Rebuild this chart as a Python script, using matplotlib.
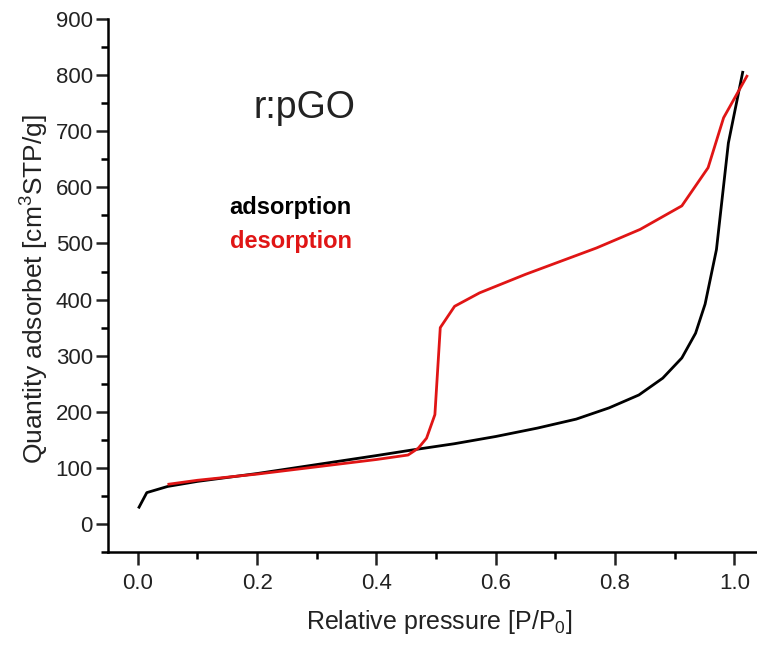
import matplotlib
matplotlib.use("Agg")
from matplotlib import pyplot as plt
from matplotlib.ticker import MultipleLocator

plt.rcParams['font.family'] = ['Liberation Sans', 'DejaVu Sans']
plt.rcParams['mathtext.fontset'] = 'custom'
plt.rcParams['mathtext.rm'] = 'Liberation Sans'

# adsorption branch
ads_p = [0.002, 0.015, 0.05, 0.1, 0.2, 0.3, 0.4, 0.46, 0.53, 0.6, 0.67, 0.735,
         0.79, 0.84, 0.88, 0.912, 0.935, 0.951, 0.97, 0.99, 1.014]
ads_q = [30, 56, 67, 76, 90, 106, 122, 132, 143, 156, 171, 187,
         207, 230, 260, 296, 340, 392, 489, 679, 805]

# desorption branch
des_p = [0.052, 0.1, 0.2, 0.3, 0.4, 0.453, 0.47, 0.484, 0.498, 0.507,
         0.531, 0.573, 0.65, 0.769, 0.842, 0.912, 0.956, 0.982, 1.021]
des_q = [71, 78, 89, 102, 115, 123, 135, 153, 195, 350,
         388, 412, 445, 492, 525, 567, 635, 724, 798]

fig = plt.figure(figsize=(7.57, 6.48), dpi=100)
ax = fig.add_axes([0.1427, 0.148, 0.8573, 0.8227])

ax.plot(ads_p, ads_q, color='black', lw=2.0)
ax.plot(des_p, des_q, color='#e01515', lw=2.0)

ax.set_xlim(-0.05, 1.038)
ax.set_ylim(-50, 900)
ax.xaxis.set_minor_locator(MultipleLocator(0.1))
ax.yaxis.set_minor_locator(MultipleLocator(50))
ax.set_xticks([0.0, 0.2, 0.4, 0.6, 0.8, 1.0])
ax.set_xticklabels(['0.0', '0.2', '0.4', '0.6', '0.8', '1.0'])
ax.set_yticks(range(0, 901, 100))

for s in ['top', 'right']:
    ax.spines[s].set_visible(False)
for s in ['left', 'bottom']:
    ax.spines[s].set_linewidth(1.8)
ax.tick_params(which='major', direction='out', length=9, width=1.8, labelsize=16,
               colors='#222222')
ax.tick_params(axis='y', which='major', pad=2)
ax.tick_params(axis='x', which='major', pad=6)
ax.tick_params(which='minor', direction='out', length=5, width=1.8)

ax.set_xlabel('Relative pressure [P/P$_0$]', fontsize=18, color='#222222')
ax.set_ylabel('Quantity adsorbet [cm$^3$STP/g]', fontsize=19, color='#222222')
ax.xaxis.set_label_coords(0.51, -0.104)
ax.yaxis.set_label_coords(-0.09, 0.493)

ax.text(0.28, 742, 'r:pGO', fontsize=27, color='#222222', ha='center', va='center')
ax.text(0.256, 564, 'adsorption', fontsize=17, fontweight='bold', color='black',
        ha='center', va='center')
ax.text(0.256, 503, 'desorption', fontsize=17, fontweight='bold', color='#e01515',
        ha='center', va='center')

fig.savefig('out.png', dpi=100)
